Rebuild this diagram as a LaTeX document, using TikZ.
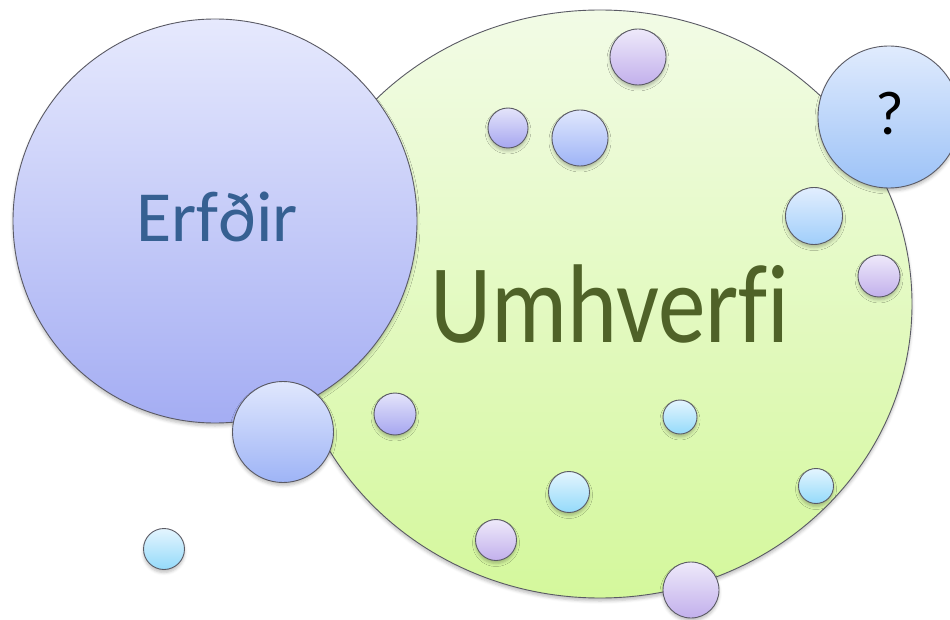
\documentclass[tikz,border=0pt]{standalone}
\usepackage{fontspec}
\setmainfont{Carlito}[Ligatures=NoCommon]
\usepackage{xcolor}
\usetikzlibrary{shapes.geometric, positioning, shadows.blur}

\definecolor{edgegray}{RGB}{90,90,100}
\definecolor{erfTop}{RGB}{230,233,253}
\definecolor{erfBot}{RGB}{164,173,243}
\definecolor{umhTop}{RGB}{242,251,230}
\definecolor{umhBot}{RGB}{212,248,156}
\definecolor{umhText}{RGB}{79,98,40}
\definecolor{erfText}{RGB}{54,96,146}
\definecolor{qTop}{RGB}{224,235,253}
\definecolor{qBot}{RGB}{156,194,247}
\definecolor{lilacTop}{RGB}{238,233,250}
\definecolor{lilacBot}{RGB}{194,176,236}
\definecolor{lavTop}{RGB}{228,228,250}
\definecolor{lavBot}{RGB}{166,166,240}
\definecolor{blueTop}{RGB}{224,231,253}
\definecolor{blueBot}{RGB}{158,180,246}
\definecolor{skyTop}{RGB}{226,238,254}
\definecolor{skyBot}{RGB}{160,206,250}
\definecolor{cyanTop}{RGB}{228,245,254}
\definecolor{cyanBot}{RGB}{148,218,250}

\begin{document}
\begin{tikzpicture}[
  x=1pt, y=-1pt,
  bubble/.style={circle, draw=edgegray, line width=0.9pt, inner sep=0pt,
                 blur shadow={shadow xshift=0pt, shadow yshift=-3pt,
                              shadow blur radius=3pt, shadow opacity=25}},
  lilac/.style={bubble, top color=lilacTop, bottom color=lilacBot},
  lav/.style={bubble, top color=lavTop, bottom color=lavBot},
  bluish/.style={bubble, top color=blueTop, bottom color=blueBot},
  sky/.style={bubble, top color=skyTop, bottom color=skyBot},
  cyanish/.style={bubble, top color=cyanTop, bottom color=cyanBot},
]
  \clip (0,0) rectangle (950,620);

  % Umhverfi
  \node[bubble, ellipse, minimum width=624pt, minimum height=588pt,
        top color=umhTop, bottom color=umhBot] (umhverfi) at (600,304) {};
  \node[font=\fontsize{112}{130}\selectfont\addfontfeatures{FakeStretch=0.85},
        text=umhText, anchor=base] (umhverfilabel) at (610,342) {Umhverfi};

  % Erfðir
  \node[bubble, minimum size=404pt, top color=erfTop, bottom color=erfBot]
       (erfdir) at (215,221) {};
  \node[font=\fontsize{72}{86}\selectfont, text=erfText, anchor=base]
       (erfdirlabel) at (217,242) {Erfðir};

  % ?
  \node[bubble, minimum size=142pt, top color=qTop, bottom color=qBot]
       (spurning) at (889,117) {};
  \node[font=\fontsize{62}{74}\selectfont, anchor=base]
       (spurninglabel) at (890,135) {?};

  % small bubbles
  \node[lilac, minimum size=56pt] (b1) at (638,57) {};
  \node[lav, minimum size=40pt] (b2) at (508,128) {};
  \node[bluish, minimum size=56pt] (b3) at (580,138) {};
  \node[sky, minimum size=57pt] (b4) at (814,216) {};
  \node[lilac, minimum size=42pt] (b5) at (879,276) {};
  \node[bluish, minimum size=101pt] (b6) at (283,432) {};
  \node[lav, minimum size=42pt] (b7) at (395,414) {};
  \node[cyanish, minimum size=34pt] (b8) at (680,417) {};
  \node[cyanish, minimum size=41pt] (b9) at (569,492) {};
  \node[cyanish, minimum size=35pt] (b10) at (816,486) {};
  \node[lilac, minimum size=41pt] (b11) at (496,540) {};
  \node[lilac, minimum size=56pt] (b12) at (691,590) {};
  \node[cyanish, minimum size=41pt] (b13) at (164,549) {};
\end{tikzpicture}
\end{document}
